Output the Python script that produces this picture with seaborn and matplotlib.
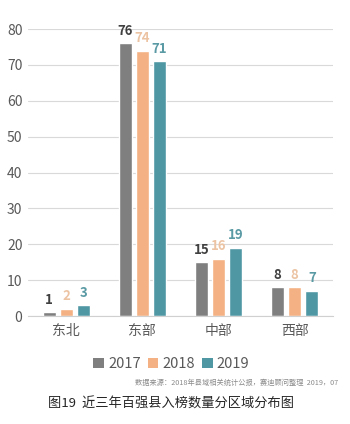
import matplotlib
matplotlib.use("Agg")
import matplotlib.pyplot as plt
import seaborn as sns
import pandas as pd

categories = ["东北", "东部", "中部", "西部"]
years = ["2017", "2018", "2019"]
v2017 = [1, 76, 15, 8]
v2018 = [2, 74, 16, 8]
v2019 = [3, 71, 19, 7]
yticks = [0, 10, 20, 30, 40, 50, 60, 70, 80]
title = "图19  近三年百强县入榜数量分区域分布图"
source = "数据来源：2018年县域相关统计公报，赛迪顾问整理  2019，07"

bar_colors = ["#7f7f7f", "#f4b183", "#4f97a3"]
label_colors = ["#404040", "#ecc4a4", "#5a9aa4"]

rows = []
for y, vals in zip(years, [v2017, v2018, v2019]):
    for c, v in zip(categories, vals):
        rows.append({"region": c, "year": y, "count": v})
df = pd.DataFrame(rows)

sns.set_theme(style="white")
plt.rcParams["font.family"] = ["Noto Sans CJK SC", "DejaVu Sans"]

fig = plt.figure(figsize=(3.5, 4.24), dpi=100)
ax = fig.add_axes([0.08, 0.2547, 0.871, 0.6769])

sns.barplot(data=df, x="region", y="count", hue="year", order=categories,
            hue_order=years, palette=bar_colors, width=0.67, gap=0.24,
            saturation=1, ax=ax, legend=False)

ax.set_ylim(0, 80)
ax.set_yticks(yticks)
ax.set_xlim(-0.5, 3.5)
ax.yaxis.grid(True, color="#d9d9d9", linewidth=0.8)
ax.set_axisbelow(True)
for s in ["top", "right", "left"]:
    ax.spines[s].set_visible(False)
ax.spines["bottom"].set_color("#d0d0d0")
ax.spines["bottom"].set_linewidth(0.8)
ax.tick_params(axis="both", length=0, labelsize=10, colors="#595959", pad=4)
ax.tick_params(axis="x", pad=6)
ax.set_xlabel("")
ax.set_ylabel("")

for cont, col in zip(ax.containers, label_colors):
    ax.bar_label(cont, padding=4, fontsize=9.5, fontweight="bold", color=col)

from matplotlib.patches import Patch
handles = [Patch(facecolor=c, edgecolor="none") for c in bar_colors]
fig.legend(handles, years, loc="center", bbox_to_anchor=(0.49, 0.142), ncol=3,
           frameon=False, fontsize=10.5, handlelength=0.7, handleheight=0.7,
           handletextpad=0.3, columnspacing=0.5, labelcolor="#595959")

fig.text(0.965, 0.097, source, ha="right", va="center", fontsize=5.2, color="#8a8a8a")
fig.text(0.137, 0.047, title, ha="left", va="center", fontsize=9.5, color="#262626")

fig.savefig("out.png", dpi=100, facecolor="white")
